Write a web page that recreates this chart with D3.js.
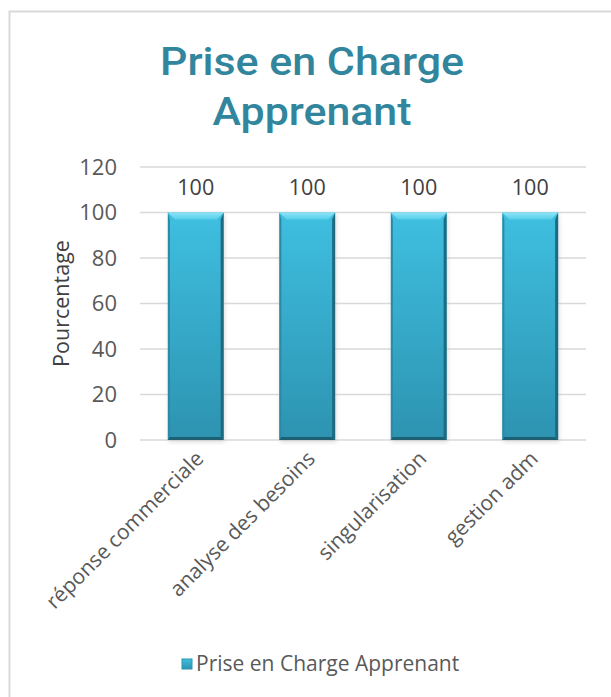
<!DOCTYPE html>
<html>
<head>
<meta charset="utf-8">
<script src="https://cdn.jsdelivr.net/npm/d3@7"></script>
<style>
  body { margin: 0; background: #fff; }
  text { font-family: "Open Sans", "Liberation Sans", sans-serif; }
</style>
</head>
<body>
<div id="chart"></div>
<script>
var svgWidth = 611;
var svgHeight = 697;

// data
var categories = ["réponse commerciale", "analyse des besoins", "singularisation", "gestion adm"];
var values = [100, 100, 100, 100];
var yTicks = [0, 20, 40, 60, 80, 100, 120];
var seriesName = "Prise en Charge Apprenant";

var margin = { top: 167, left: 140, right: 25, bottom: 257 };
var width = svgWidth - margin.left - margin.right;
var height = svgHeight - margin.top - margin.bottom;
var fs = "21px";

var svg = d3.select("#chart")
  .append("svg")
  .attr("width", svgWidth)
  .attr("height", svgHeight);

// gradients for the bevelled bars
var defs = svg.append("defs");
var g1 = defs.append("linearGradient").attr("id", "barFill")
  .attr("x1", 0).attr("y1", 0).attr("x2", 0).attr("y2", 1);
g1.append("stop").attr("offset", "0%").attr("stop-color", "#3fbfe0");
g1.append("stop").attr("offset", "100%").attr("stop-color", "#2d93b1");
var g2 = defs.append("linearGradient").attr("id", "barTop")
  .attr("x1", 0).attr("y1", 0).attr("x2", 0).attr("y2", 1);
g2.append("stop").attr("offset", "0%").attr("stop-color", "#8fe4f7");
g2.append("stop").attr("offset", "100%").attr("stop-color", "#55cdea");
var sh = defs.append("filter").attr("id", "shadow")
  .attr("x", "-20%").attr("y", "-20%").attr("width", "140%").attr("height", "140%");
sh.append("feGaussianBlur").attr("stdDeviation", 2);

// outer frame
svg.append("path")
  .attr("d", "M9.5," + svgHeight + " V11.5 H" + svgWidth)
  .attr("fill", "none")
  .attr("stroke", "#d9d9d9")
  .attr("stroke-width", 2);

// title
svg.append("text")
  .attr("x", 312).attr("y", 75)
  .attr("text-anchor", "middle")
  .attr("textLength", 304)
  .attr("lengthAdjust", "spacingAndGlyphs")
  .style("font-family", "Roboto, sans-serif")
  .style("font-weight", 500)
  .style("font-size", "38px")
  .attr("fill", "#31869d")
  .text("Prise en Charge");
svg.append("text")
  .attr("x", 312).attr("y", 125)
  .attr("text-anchor", "middle")
  .attr("textLength", 199)
  .attr("lengthAdjust", "spacingAndGlyphs")
  .style("font-family", "Roboto, sans-serif")
  .style("font-weight", 500)
  .style("font-size", "38px")
  .attr("fill", "#31869d")
  .text("Apprenant");

var chartGroup = svg.append("g")
  .attr("transform", `translate(${margin.left}, ${margin.top})`);

var xScale = d3.scaleBand()
  .domain(categories)
  .range([0, width])
  .paddingInner(0.5)
  .paddingOuter(0.25);

var yScale = d3.scaleLinear()
  .domain([0, 120])
  .range([height, 0]);

// grid lines
chartGroup.append("g")
  .selectAll("line")
  .data(yTicks)
  .enter()
  .append("line")
  .attr("x1", 0).attr("x2", width)
  .attr("y1", d => yScale(d)).attr("y2", d => yScale(d))
  .attr("stroke", "#d9d9d9")
  .attr("stroke-width", 1.5);

// y axis labels
var yAxis = d3.axisLeft(yScale).tickValues(yTicks).tickSize(0).tickPadding(23);
chartGroup.append("g")
  .call(yAxis)
  .call(g => g.select(".domain").remove())
  .selectAll("text")
  .style("font-family", "'Open Sans', sans-serif")
  .style("font-size", "22px")
  .attr("fill", "#595959");

// bars
var bars = chartGroup.selectAll(".bar")
  .data(values)
  .enter()
  .append("g")
  .attr("class", "bar");

var bw = xScale.bandwidth();
var bev = 7;

bars.append("rect")
  .attr("x", (d, i) => xScale(categories[i]) + 1)
  .attr("y", d => yScale(d) + 2)
  .attr("width", bw)
  .attr("height", d => height - yScale(d))
  .attr("fill", "#bfbfbf")
  .attr("opacity", 0.6)
  .attr("filter", "url(#shadow)");

bars.append("rect")
  .attr("x", (d, i) => xScale(categories[i]))
  .attr("y", d => yScale(d))
  .attr("width", bw)
  .attr("height", d => height - yScale(d))
  .attr("fill", "url(#barFill)");

// top bevel
bars.append("path")
  .attr("d", function(d, i) {
    var x0 = xScale(categories[i]), y0 = yScale(d);
    return `M${x0},${y0} H${x0 + bw} L${x0 + bw - bev},${y0 + bev} H${x0 + bev} Z`;
  })
  .attr("fill", "url(#barTop)");

// right bevel
bars.append("path")
  .attr("d", function(d, i) {
    var x0 = xScale(categories[i]) + bw, y0 = yScale(d);
    return `M${x0},${y0} V${height} L${x0 - 3},${height - 3} V${y0 + bev} Z`;
  })
  .attr("fill", "#1f6a80");

// left edge and bottom
bars.append("path")
  .attr("d", function(d, i) {
    var x0 = xScale(categories[i]), y0 = yScale(d);
    return `M${x0},${y0} V${height} L${x0 + 2},${height - 2} V${y0 + bev} Z`;
  })
  .attr("fill", "#2a8aa6");
bars.append("path")
  .attr("d", function(d, i) {
    var x0 = xScale(categories[i]);
    return `M${x0},${height} H${x0 + bw} L${x0 + bw - 3},${height - 3} H${x0 + 2} Z`;
  })
  .attr("fill", "#1d5f73");

// value labels
chartGroup.selectAll(".val")
  .data(values)
  .enter()
  .append("text")
  .attr("x", (d, i) => xScale(categories[i]) + bw / 2)
  .attr("y", d => yScale(d) - 18)
  .attr("text-anchor", "middle")
  .style("font-size", "21.5px")
  .attr("fill", "#404040")
  .text(d => d);

// category labels
chartGroup.selectAll(".cat")
  .data(categories)
  .enter()
  .append("text")
  .attr("transform", d => `translate(${xScale(d) + bw / 2 + 9}, ${height + 20}) rotate(-45)`)
  .attr("text-anchor", "end")
  .style("font-size", fs)
  .attr("fill", "#595959")
  .text(d => d);

// y axis title
chartGroup.append("text")
  .attr("transform", "rotate(-90)")
  .attr("x", -height / 2)
  .attr("y", -71)
  .attr("text-anchor", "middle")
  .style("font-size", "21.5px")
  .attr("fill", "#404040")
  .text("Pourcentage");

// legend
var legend = svg.append("g").attr("transform", "translate(182, 659)");
legend.append("rect")
  .attr("width", 10).attr("height", 10)
  .attr("fill", "url(#barFill)")
  .attr("stroke", "#2d93b1");
legend.append("text")
  .attr("x", 14).attr("y", 12)
  .style("font-size", fs)
  .attr("fill", "#595959")
  .text(seriesName);
</script>
</body>
</html>
